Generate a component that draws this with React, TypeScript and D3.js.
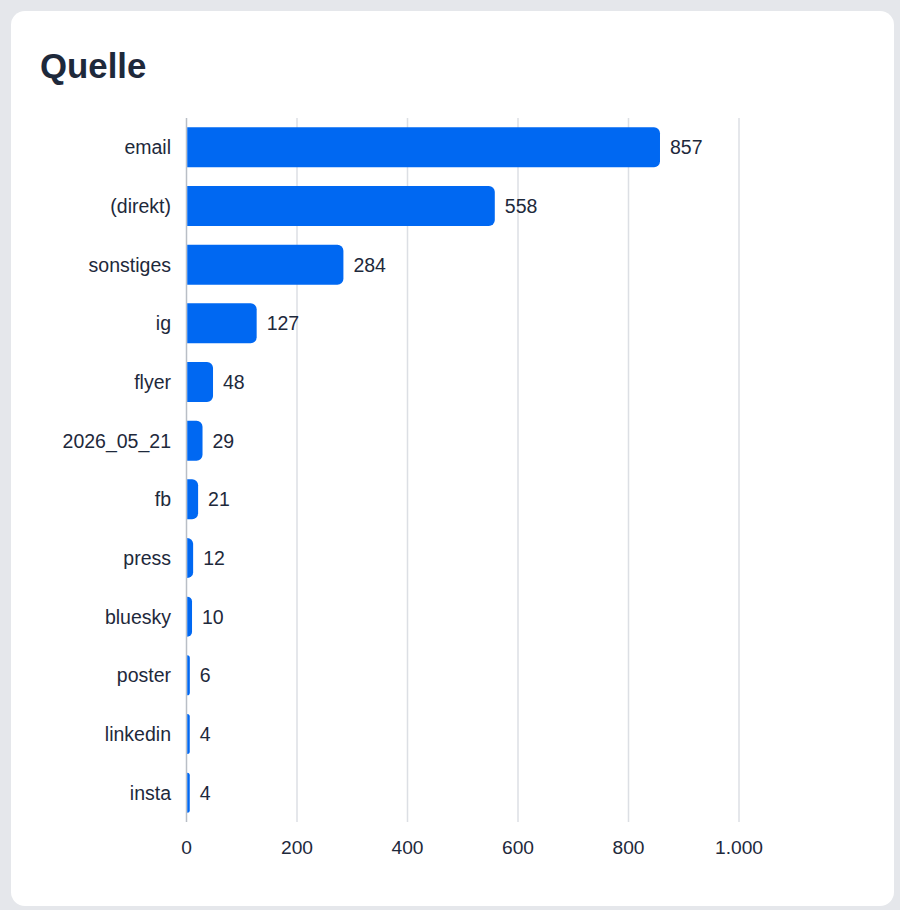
import React, { useEffect, useRef } from 'react';
import * as d3 from 'd3';

const categories = ['email', '(direkt)', 'sonstiges', 'ig', 'flyer', '2026_05_21', 'fb', 'press', 'bluesky', 'poster', 'linkedin', 'insta'];
const values = [857, 558, 284, 127, 48, 29, 21, 12, 10, 6, 4, 4];
const xTicks = [0, 200, 400, 600, 800, 1000];

const de = d3.formatLocale({ decimal: ',', thousands: '.', grouping: [3], currency: ['', ' €'] });
const fmt = de.format(',d');

const FONT = '"Liberation Sans", Arial, Helvetica, sans-serif';
const TEXT = '#1e293b';
const BAR = '#0068f2';

const App: React.FC = () => {
  const svgRef = useRef<SVGSVGElement>(null);

  useEffect(() => {
    if (!svgRef.current) return;
    document.body.style.margin = '0';
    const svg = d3.select(svgRef.current);
    svg.selectAll('*').remove();

    const W = 900;
    const H = 910;

    svg.append('rect').attr('width', W).attr('height', H).attr('fill', '#e5e7eb');

    // card
    svg.append('rect')
      .attr('x', 11).attr('y', 11)
      .attr('width', 883).attr('height', 895)
      .attr('rx', 14)
      .attr('fill', '#ffffff');

    svg.append('text')
      .attr('x', 40).attr('y', 78)
      .attr('font-family', FONT)
      .attr('font-weight', 700)
      .attr('font-size', 34.8)
      .attr('fill', TEXT)
      .text('Quelle');

    const x = d3.scaleLinear().domain([0, 1000]).range([186.5, 739]);
    const y = d3.scaleBand<string>()
      .domain(categories)
      .range([118, 822])
      .paddingInner(0.318)
      .paddingOuter(0.159);

    const top = 118;
    const bottom = 822;

    // grid lines
    svg.append('g')
      .selectAll('line')
      .data(xTicks.filter(t => t > 0))
      .enter()
      .append('line')
      .attr('x1', d => x(d)).attr('x2', d => x(d))
      .attr('y1', top).attr('y2', bottom)
      .attr('stroke', '#dcdfe4')
      .attr('stroke-width', 1.5);

    // zero axis line
    svg.append('line')
      .attr('x1', x(0)).attr('x2', x(0))
      .attr('y1', top).attr('y2', bottom)
      .attr('stroke', '#b9bec6')
      .attr('stroke-width', 1.5);

    // x tick labels
    svg.append('g')
      .selectAll('text')
      .data(xTicks)
      .enter()
      .append('text')
      .attr('x', d => x(d))
      .attr('y', 847)
      .attr('text-anchor', 'middle')
      .attr('dominant-baseline', 'central')
      .attr('font-family', FONT)
      .attr('font-size', 19.2)
      .attr('fill', TEXT)
      .text(d => fmt(d));

    // category labels
    svg.append('g')
      .selectAll('text')
      .data(categories)
      .enter()
      .append('text')
      .attr('x', 171)
      .attr('y', d => (y(d) as number) + y.bandwidth() / 2)
      .attr('text-anchor', 'end')
      .attr('dominant-baseline', 'central')
      .attr('font-family', FONT)
      .attr('font-size', 19.5)
      .attr('fill', TEXT)
      .text(d => d);

    const data = categories.map((c, i) => ({ c, v: values[i] }));
    const x0 = x(0) + 0.75;

    const barPath = (d: { c: string; v: number }) => {
      const y0 = y(d.c) as number;
      const h = y.bandwidth();
      const w = Math.max(x(d.v) - x0, 2.5);
      const r = Math.min(6, w, h / 2);
      const p = d3.path();
      p.moveTo(x0, y0);
      p.lineTo(x0 + w - r, y0);
      p.arcTo(x0 + w, y0, x0 + w, y0 + r, r);
      p.lineTo(x0 + w, y0 + h - r);
      p.arcTo(x0 + w, y0 + h, x0 + w - r, y0 + h, r);
      p.lineTo(x0, y0 + h);
      p.closePath();
      return p.toString();
    };

    svg.append('g')
      .selectAll('path')
      .data(data)
      .enter()
      .append('path')
      .attr('d', barPath)
      .attr('fill', BAR);

    // value labels
    svg.append('g')
      .selectAll('text')
      .data(data)
      .enter()
      .append('text')
      .attr('x', d => x0 + Math.max(x(d.v) - x0, 2.5) + 10)
      .attr('y', d => (y(d.c) as number) + y.bandwidth() / 2)
      .attr('dominant-baseline', 'central')
      .attr('font-family', FONT)
      .attr('font-size', 19.5)
      .attr('fill', TEXT)
      .text(d => fmt(d.v));
  }, []);

  return <svg ref={svgRef} width={900} height={910} style={{ display: 'block' }} />;
};

export default App;
